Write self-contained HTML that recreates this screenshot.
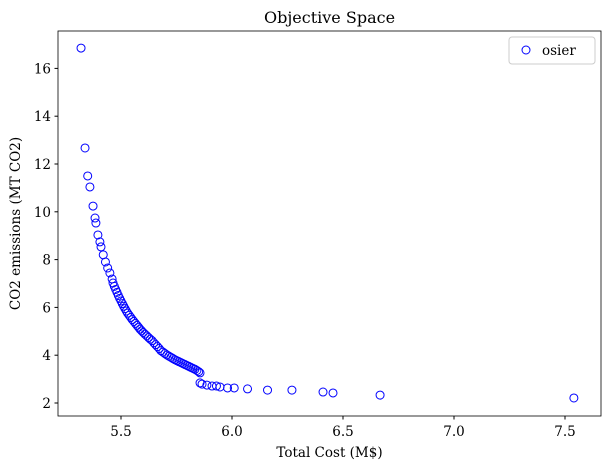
<!DOCTYPE html>
<html><head><meta charset="utf-8"><style>
body{margin:0;background:#fff}
svg text{font-family:"DejaVu Serif","Liberation Serif",serif;fill:#000}
</style></head><body>
<svg id="chart" width="609" height="469" xmlns="http://www.w3.org/2000/svg">
<rect width="609" height="469" fill="#fff"/>
<text x="329.5" y="23" font-size="16" text-anchor="middle">Objective Space</text>
<rect x="58" y="31" width="543" height="385" fill="none" stroke="#000" stroke-width="0.8"/>
<g id="xt"></g><g id="yt"></g><g id="pts"></g>
<text x="329.5" y="457" font-size="13.5" text-anchor="middle">Total Cost (M$)</text>
<text transform="translate(20,223.5) rotate(-90)" font-size="13.5" text-anchor="middle">CO2 emissions (MT CO2)</text>
<g>
<rect x="509" y="37" width="86" height="27" rx="3" fill="#fff" stroke="#ccc"/>
<circle cx="526" cy="50" r="4" fill="none" stroke="#00f" stroke-width="1"/>
<text x="542" y="55" font-size="13.5">osier</text>
</g>
</svg>
<script>
const xTicks=[5.5,6.0,6.5,7.0,7.5];
const yTicks=[2,4,6,8,10,12,14,16];
const costs=[5.32,5.338,5.35,5.36,5.374,5.383,5.387,5.396,5.405,5.41,5.42,5.43,5.44,5.45,5.46,
5.464,5.47,5.476,5.482,5.488,5.494,5.5,5.506,5.512,5.518,5.524,5.53,5.537,5.544,5.551,5.558,5.565,5.572,5.579,5.586,5.593,5.6,5.608,5.616,5.624,5.632,5.64,5.648,5.656,5.664,5.672,5.68,5.689,5.698,5.707,5.716,5.725,5.734,5.743,5.752,5.761,5.77,5.779,5.788,5.797,5.806,5.815,5.824,5.833,5.842,5.85,5.856,
5.856,5.865,5.887,5.91,5.93,5.946,5.98,6.01,6.07,6.16,6.27,6.41,6.455,6.667,7.54];
const emissions=[16.85,12.67,11.5,11.04,10.24,9.74,9.53,9.03,8.74,8.53,8.2,7.9,7.65,7.44,7.19,
7.02,6.88,6.75,6.63,6.5,6.38,6.27,6.16,6.05,5.95,5.85,5.76,5.67,5.58,5.49,5.41,5.33,5.25,5.17,5.09,5.02,4.95,4.88,4.81,4.74,4.67,4.61,4.52,4.44,4.36,4.28,4.19,4.13,4.07,4.01,3.96,3.91,3.86,3.81,3.77,3.73,3.69,3.65,3.61,3.57,3.53,3.49,3.45,3.41,3.36,3.31,3.26,
2.84,2.79,2.75,2.71,2.71,2.67,2.63,2.63,2.59,2.54,2.54,2.46,2.42,2.33,2.21];
const NS='http://www.w3.org/2000/svg';
const xs=v=>121+(v-5.5)*222;
const ys=v=>403-(v-2)*23.9;
const xt=document.getElementById('xt'),yt=document.getElementById('yt'),pts=document.getElementById('pts');
xTicks.forEach(t=>{
  const l=document.createElementNS(NS,'line');
  
  
  l.setAttribute('x1',xs(t));l.setAttribute('x2',xs(t));l.setAttribute('y1',416);l.setAttribute('y2',419.5);l.setAttribute('stroke','#000');
  xt.appendChild(l);
  const s=document.createElementNS(NS,'text');
  
  
  s.setAttribute('x',xs(t));s.setAttribute('y',436);s.setAttribute('font-size','13.5');s.setAttribute('text-anchor','middle');
  s.textContent=t.toFixed(1);xt.appendChild(s);
});
yTicks.forEach(t=>{
  const l=document.createElementNS(NS,'line');
  
  
  l.setAttribute('x1',54.5);l.setAttribute('x2',58);l.setAttribute('y1',ys(t));l.setAttribute('y2',ys(t));l.setAttribute('stroke','#000');
  yt.appendChild(l);
  const s=document.createElementNS(NS,'text');
  
  
  s.setAttribute('x',51);s.setAttribute('y',ys(t)+5);s.setAttribute('font-size','13.5');s.setAttribute('text-anchor','end');
  s.textContent=t;yt.appendChild(s);
});
costs.forEach((c,i)=>{
  const p=document.createElementNS(NS,'circle');
  
  
  p.setAttribute('cx',xs(c));p.setAttribute('cy',ys(emissions[i]));p.setAttribute('r',4);
  p.setAttribute('fill','none');p.setAttribute('stroke','#00f');p.setAttribute('stroke-width','1');
  pts.appendChild(p);
});
</script>
</body></html>
